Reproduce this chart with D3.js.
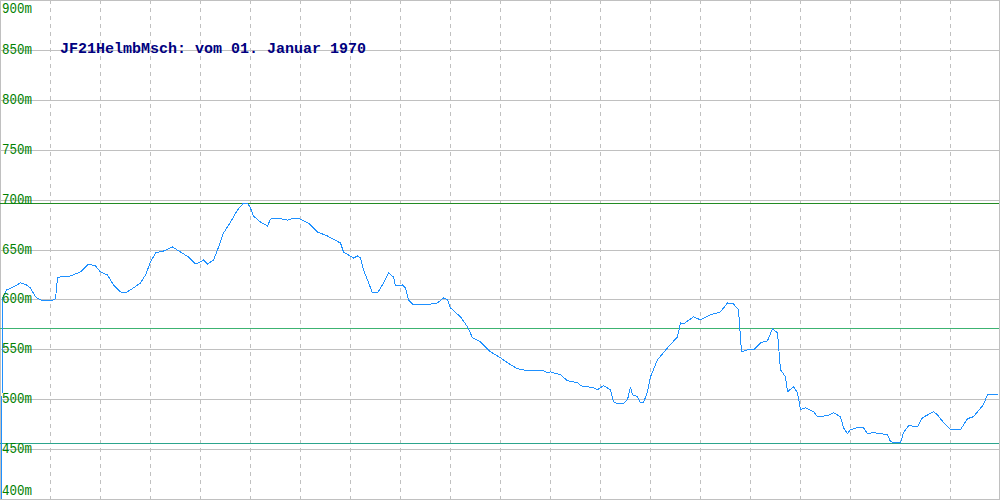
<!DOCTYPE html>
<html>
<head>
<meta charset="utf-8">
<script src="https://cdn.jsdelivr.net/npm/d3@7"></script>
<style>
  html, body { margin: 0; padding: 0; background: #fff; }
  svg { display: block; }
</style>
</head>
<body>
<svg id="chart" width="1000" height="500"></svg>
<script>
const title = "JF21HelmbMsch: vom 01. Januar 1970";
const yTicks = [400, 450, 500, 550, 600, 650, 700, 750, 800, 850, 900];
const xGrid = [50, 100, 150, 200, 250, 300, 350, 400, 450, 500, 550, 600, 650, 700, 750, 800, 850, 900, 950];
const dist = [1, 2, 6, 13, 20, 26, 30, 35, 40, 47, 53, 55, 57, 60, 65, 70, 75, 80, 87, 91, 95, 100, 107, 113, 120, 125, 133, 140, 145, 150, 155, 163, 172, 180, 188, 195, 200, 203, 207, 213, 217, 223, 230, 237, 243, 247, 250, 253, 260, 267, 270, 277, 287, 293, 300, 308, 317, 327, 340, 343, 353, 357, 360, 363, 367, 372, 377, 383, 388, 393, 395, 402, 405, 408, 413, 425, 437, 443, 447, 450, 460, 467, 472, 480, 490, 500, 507, 517, 527, 543, 547, 550, 553, 560, 567, 577, 580, 593, 597, 603, 610, 613, 617, 623, 627, 630, 632, 637, 640, 643, 647, 650, 657, 667, 677, 680, 683, 693, 700, 710, 720, 727, 733, 738, 741, 747, 753, 760, 767, 772, 777, 780, 785, 787, 793, 797, 800, 805, 813, 817, 827, 833, 840, 843, 847, 850, 857, 863, 867, 873, 880, 887, 890, 893, 900, 903, 908, 917, 922, 933, 937, 943, 950, 960, 967, 973, 983, 987, 997];
const elev = [400, 602, 610, 613, 617, 615, 612, 603, 600, 599, 600, 601, 622, 623, 623, 624, 626, 628, 635, 635, 634, 628, 625, 615, 608, 607, 612, 617, 625, 638, 647, 649, 653, 648, 643, 636, 638, 640, 636, 640, 650, 667, 678, 690, 697, 697, 692, 684, 678, 674, 681, 682, 680, 682, 681, 677, 668, 664, 657, 648, 642, 644, 642, 630, 620, 607, 607, 617, 627, 623, 614, 615, 612, 600, 595, 595, 597, 602, 600, 592, 583, 573, 562, 558, 548, 542, 537, 531, 529, 529, 527, 528, 527, 525, 519, 517, 514, 512, 510, 514, 510, 498, 496, 496, 500, 513, 505, 503, 497, 497, 508, 523, 540, 552, 563, 577, 576, 583, 580, 585, 588, 597, 596, 590, 548, 550, 550, 557, 559, 571, 567, 530, 523, 508, 513, 507, 490, 492, 488, 483, 484, 487, 483, 472, 466, 470, 472, 472, 466, 467, 466, 465, 458, 457, 457, 467, 474, 473, 482, 488, 485, 477, 470, 470, 481, 483, 495, 505, 505];
const refNames = ["max", "avg", "min"];
const refValues = [697, 572, 457];

const W = 1000, H = 500;
const svg = d3.select("#chart");
const x = d3.scaleLinear().domain([0, 1000]).range([0, 1000]);
const y = d3.scaleLinear().domain([400, 900]).range([499.5, 0.5]);

// vertical dashed grid
svg.append("g").selectAll("line").data(xGrid).join("line")
  .attr("x1", d => Math.round(x(d)) + 0.5).attr("x2", d => Math.round(x(d)) + 0.5)
  .attr("y1", 0).attr("y2", H)
  .attr("stroke", "#c0c0c0").attr("stroke-width", 1)
  .attr("stroke-dasharray", "4,4")
  .attr("shape-rendering", "crispEdges");

// horizontal grid
svg.append("g").selectAll("line").data(yTicks).join("line")
  .attr("x1", 0).attr("x2", W)
  .attr("y1", d => Math.round(y(d) - 0.5) + 0.5).attr("y2", d => Math.round(y(d) - 0.5) + 0.5)
  .attr("stroke", "#c0c0c0").attr("stroke-width", 1)
  .attr("shape-rendering", "crispEdges");

// border
svg.append("rect").attr("x", 0.5).attr("y", 0.5).attr("width", W - 1).attr("height", H - 1)
  .attr("fill", "none").attr("stroke", "#c0c0c0").attr("shape-rendering", "crispEdges");

// reference lines
const refColors = { max: "#228b22", avg: "#3cb371", min: "#2ca58d" };
svg.append("g").selectAll("line").data(refValues).join("line")
  .attr("x1", 0).attr("x2", W - 1)
  .attr("y1", d => Math.round(y(d)) + 0.5).attr("y2", d => Math.round(y(d)) + 0.5)
  .attr("stroke", (d, i) => refColors[refNames[i]]).attr("stroke-width", 1)
  .attr("shape-rendering", "crispEdges");

// elevation line
const pts = dist.map((d, i) => [d, elev[i]]);
svg.append("path").datum(pts)
  .attr("fill", "none").attr("stroke", "#1e90ff").attr("stroke-width", 1)
  .attr("shape-rendering", "crispEdges")
  .attr("d", d3.line().x(d => x(d[0]) + 0.5).y(d => y(d[1])));

// y labels
svg.append("g").selectAll("text").data(yTicks).join("text")
  .attr("x", 2)
  .attr("y", d => d === 900 ? 13 : (d === 400 ? 495 : y(d) + 3.5))
  .attr("fill", "#008000")
  .attr("font-family", "Liberation Mono, monospace")
  .attr("font-size", "15px")
  .attr("textLength", 30)
  .attr("lengthAdjust", "spacingAndGlyphs")
  .text(d => d + "m");

// title
svg.append("text")
  .attr("x", 60).attr("y", 53)
  .attr("fill", "#000080")
  .attr("font-family", "Liberation Mono, monospace")
  .attr("font-size", "15px")
  .attr("font-weight", "bold")
  .text(title);
</script>
</body>
</html>
